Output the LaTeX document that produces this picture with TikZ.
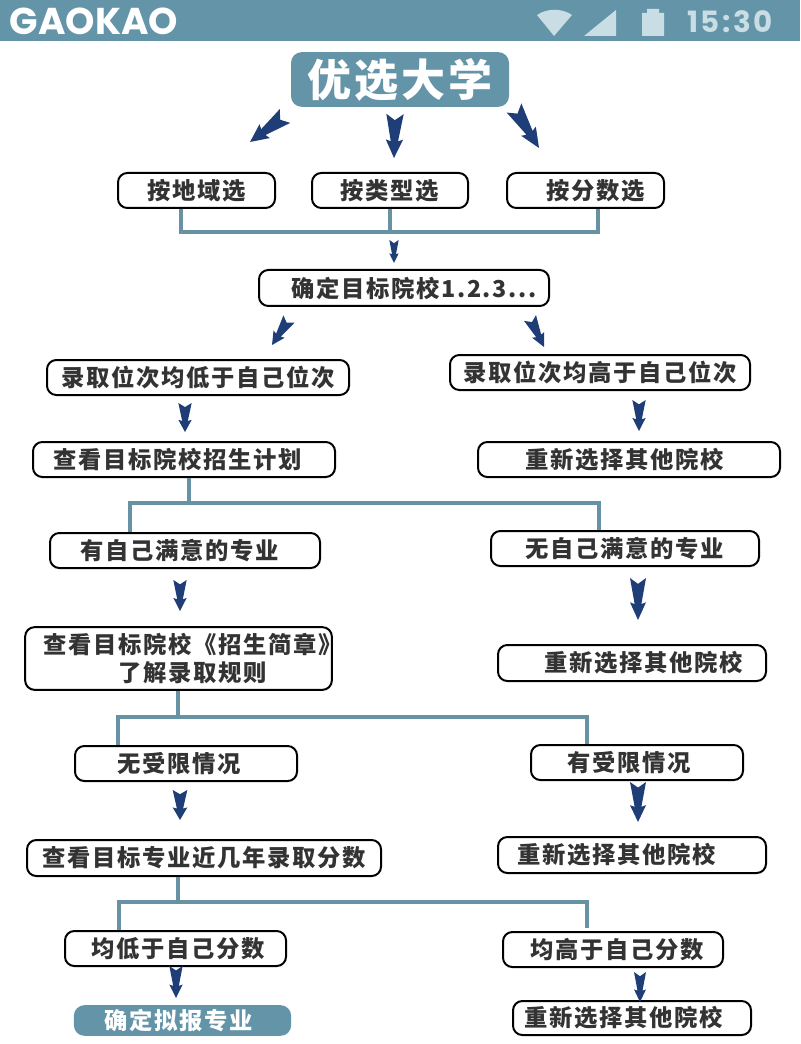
\documentclass[tikz,border=0pt]{standalone}
\usepackage{fontspec}
\usetikzlibrary{calc}
\setmainfont{Poppins}
\newfontfamily\clockfont[LetterSpace=9]{Poppins}
\newfontfamily\cjk[LetterSpace=7]{Noto Sans CJK SC}

\definecolor{barteal}{HTML}{6494A8}
\definecolor{arrowblue}{HTML}{1F3E78}
\definecolor{inktext}{HTML}{333333}
\definecolor{iconpale}{HTML}{C9DDE5}

\tikzset{
	plainbox/.style = {draw = black, line width = 1.5pt, fill = white, rounded corners = 7pt,
		text = inktext, font = \cjk\bfseries\fontsize{17.5}{21}\selectfont, inner sep = 0pt, align = center},
	tealbox/.style = {fill = barteal, rounded corners = 8pt, text = white, inner sep = 0pt},
	busline/.style = {draw = barteal!90!gray, line width = 3pt}
}

% Notched arrow: tail, head, half width of the tail
\newcommand{\fatarrow}[3]{
	\fill [arrowblue] ($(#1)!#3!90:(#2)$) -- ($(#1)!.14!(#2)$) -- ($(#1)!#3!-90:(#2)$)
		-- ($($(#1)!.62!(#2)$)!.42*#3!-90:(#2)$) -- ($($(#1)!.58!(#2)$)!#3!-90:(#2)$)
		-- (#2) -- ($($(#1)!.58!(#2)$)!#3!90:(#2)$) -- ($($(#1)!.62!(#2)$)!.42*#3!90:(#2)$) -- cycle;
}

\begin{document}
\begin{tikzpicture}[x = 0.75pt, y = -0.75pt]

	\useasboundingbox (0, 0) rectangle (800, 1044);

	% Status bar

	\fill [barteal] (0, 0) rectangle (800, 41);
	\node (brand) at (94, 21.5) [text = white, font = \bfseries\fontsize{28}{28}\selectfont] {GAOKAO};
	\node (clock) at (730, 21.5) [text = iconpale, font = \clockfont\bfseries\fontsize{22}{22}\selectfont] {15:30};
	\fill [iconpale] (537, 15) .. controls (547, 8) and (562, 8) .. (572, 15) -- (554, 36) -- cycle;
	\fill [iconpale] (584, 36) -- (616, 10) -- (616, 36) -- cycle;
	\fill [iconpale] (642, 13) -- (647, 13) -- (647, 9) -- (659, 9) -- (659, 13) -- (664, 13) -- (664, 36) -- (642, 36) -- cycle;

	% Title and closing box

	\node (title) at (400, 79.5) [tealbox, minimum width = 163.5pt, minimum height = 41pt,
		font = \cjk\bfseries\fontsize{33}{33}\selectfont] {优选大学};
	\node (final) at (182.5, 1020.5) [tealbox, minimum width = 163pt, minimum height = 23pt,
		font = \cjk\bfseries\fontsize{17.5}{21}\selectfont] {\hspace*{-6pt}确定拟报专业};

	% Boxes: name / centre x / centre y / width / height / text shift / text

	\foreach \n/\x/\y/\w/\h/\s/\t in {
		byarea/196.5/190.5/157/35/0/按地域选,
		bytype/390/190.5/156/35/0/按类型选,
		byscore/585.5/190.5/157/35/15/按分数选,
		lower/198/377.5/302/35/0/录取位次均低于自己位次,
		higher/600/372.5/300/35/0/录取位次均高于自己位次,
		plan/184/459.5/302/35/-9/查看目标院校招生计划,
		retrya/629/459.5/302/35/-7/重新选择其他院校,
		liked/185/550.5/270/35/-8/有自己满意的专业,
		noliked/625/548.5/268/35/0/无自己满意的专业,
		retryb/632/663/268/36/17/重新选择其他院校,
		free/186/763.5/222/35/-10/无受限情况,
		limited/637/762.5/212/35/-12/有受限情况,
		scores/204/858/354/36/0/查看目标专业近几年录取分数,
		retryc/632/855/268/36/-23/重新选择其他院校,
		belowsc/175.5/948.5/221/35/4/均低于自己分数,
		abovesc/613/949.5/220/35/6.5/均高于自己分数,
		retryd/632/1018/238/34/-12/重新选择其他院校}
		\node (\n) at (\x, \y) [plainbox, minimum width = \w * 0.75pt, minimum height = \h * 0.75pt]
			{\hspace*{\s pt}\t};

	\node (target) at (404, 288) [plainbox, minimum width = 217.5pt, minimum height = 27pt]
		{\hspace*{15pt}确定目标院校1.2.3...};
	\node (rules) at (178.5, 658.5) [plainbox, minimum width = 230pt, minimum height = 47pt]
		{\makebox[0pt]{\hspace*{21pt}查看目标院校《招生简章》}\\\makebox[0pt]{\hspace*{21pt}了解录取规则}};

	% Bus lines under the boxes

	\coordinate (busal) at (181, 232);
	\coordinate (busam) at (390, 232);
	\coordinate (busar) at (598, 232);
	\draw [busline] (busal |- byarea.south) -- (busal) -- (busar) -- (busar |- byscore.south);
	\draw [busline] (bytype.south) -- (busam);

	\coordinate (busbl) at (130, 503);
	\coordinate (busbm) at (189, 503);
	\coordinate (busbr) at (599, 503);
	\draw [busline] (busbl |- liked.north) -- (busbl) -- (busbr) -- (busbr |- noliked.north);
	\draw [busline] (busbm |- plan.south) -- (busbm);

	\coordinate (buscl) at (118, 717);
	\coordinate (buscm) at (178, 717);
	\coordinate (buscr) at (587, 717);
	\draw [busline] (buscl |- free.north) -- (buscl) -- (buscr) -- (buscr |- limited.north);
	\draw [busline] (buscm |- rules.south) -- (buscm);

	\coordinate (busdl) at (119, 902);
	\coordinate (busdm) at (178, 902);
	\coordinate (busdr) at (587, 902);
	\coordinate (busde) at (587, 928);
	\draw [busline] (busdl |- belowsc.north) -- (busdl) -- (busdr) -- (busde);
	\draw [busline] (busdm |- scores.south) -- (busdm);

	% Arrows: name / tail x / tail y / head x / head y / half width

	\foreach \n/\xa/\ya/\xb/\yb/\w in {
		area/285/116/250/142/6.5pt,
		type/395/114/394/158/6.5pt,
		score/514/108/539/148/6.5pt,
		join/394/240/394/263/3.5pt,
		tlow/289/319/272/345/5pt,
		thigh/530/318/544/347/5pt,
		low/185/403/185/432/5pt,
		high/639/400/639/431/5pt,
		like/180/580/180/611/5pt,
		nolike/638/578/638/620/6pt,
		free/180/790/180/820/5.5pt,
		limit/638/782/638/822/6pt,
		below/176/966/176/998/5pt,
		above/640/972/640/1002/4.5pt} {
		\coordinate (tail\n) at (\xa, \ya);
		\coordinate (head\n) at (\xb, \yb);
		\fatarrow{tail\n}{head\n}{\w}
	}

\end{tikzpicture}
\end{document}
